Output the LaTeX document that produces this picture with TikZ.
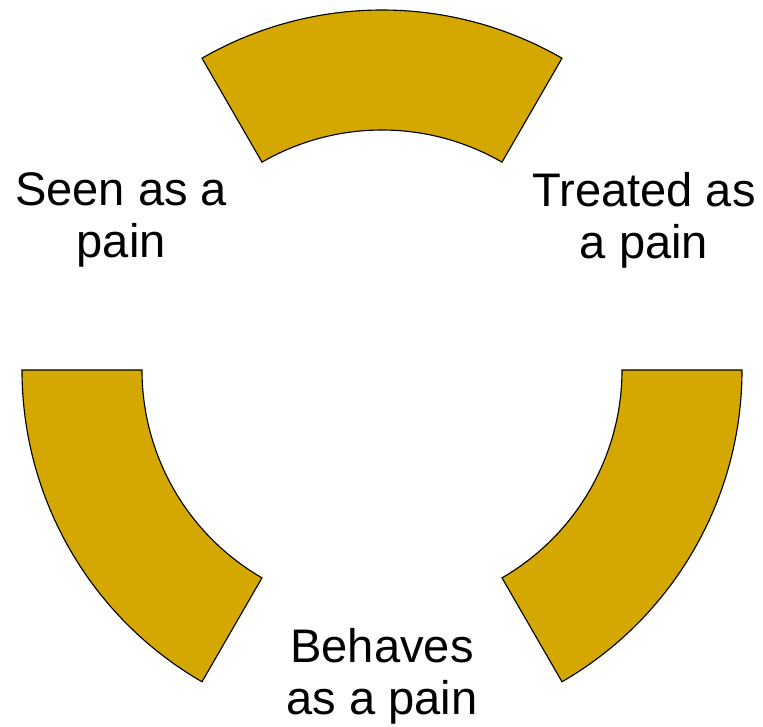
\documentclass[tikz,border=0pt]{standalone}
\usepackage{fontspec}
\setmainfont{Liberation Sans}
\definecolor{mustard}{HTML}{D4A800}

\begin{document}
\begin{tikzpicture}
  \tikzset{
    band/.style={draw=black,fill=mustard,line width=.8pt},
    caption/.style={align=center,font=\fontsize{33.5}{37}\selectfont,inner sep=0pt}
  }
  \useasboundingbox (-9.55,-8.9) rectangle (9.525,9.25);

  % Ring segments, inner radius 6, outer radius 9.
  \foreach \a in {60,180,300}
    \path[band] (\a:6) -- (\a:9) arc[start angle=\a,end angle=\a+60,radius=9]
      -- ({\a+60}:6) arc[start angle=\a+60,end angle=\a,radius=6] -- cycle;

  % Labels.
  \node[caption] (seen) at (-6.52,3.74) {Seen as a\\pain};
  \node[caption] (treated) at (6.55,3.74) {Treated as\\a pain};
  \node[caption] (behaves) at (0,-7.66) {Behaves\\as a pain};
\end{tikzpicture}
\end{document}
